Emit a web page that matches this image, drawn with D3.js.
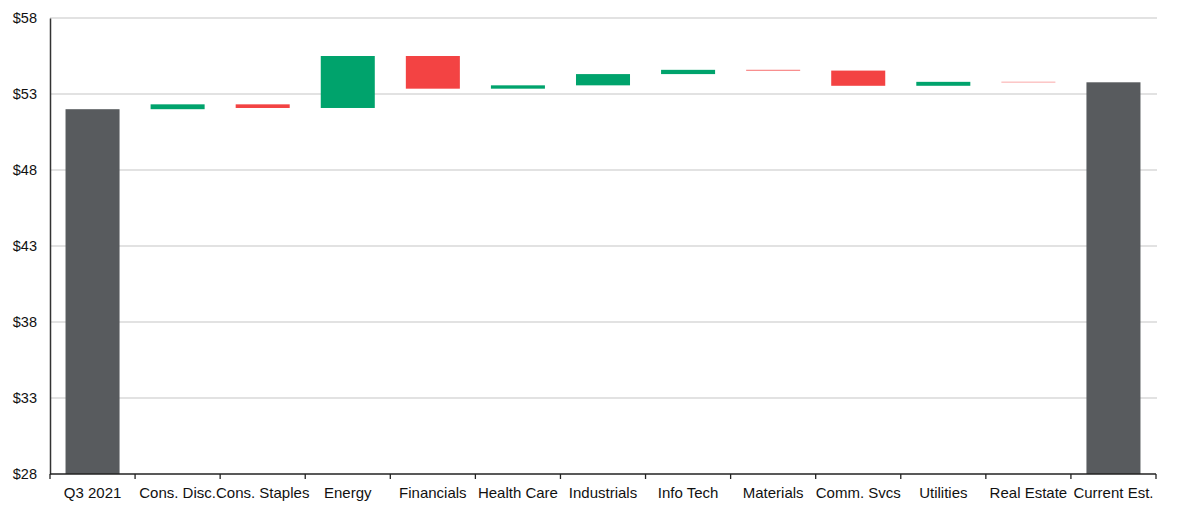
<!DOCTYPE html>
<html>
<head>
<meta charset="utf-8">
<script src="https://cdn.jsdelivr.net/npm/d3@7"></script>
<style>
  body { margin: 0; background: #fff; }
  svg { display: block; font-family: "Liberation Sans", Arial, sans-serif; }
</style>
</head>
<body>
<div id="wrapper"></div>
<script>
// waterfall: start value, sector contributions, end value
const categories = ["Q3 2021", "Cons. Disc.", "Cons. Staples", "Energy", "Financials",
  "Health Care", "Industrials", "Info Tech", "Materials", "Comm. Svcs", "Utilities",
  "Real Estate", "Current Est."];
const startValue = 52.0;
const changes = [0.32, -0.24, 3.42, -2.15, 0.22, 0.74, 0.28, -0.05, -1.0, 0.26, -0.03];
const endValue = 53.77;
const yTicks = [28, 33, 38, 43, 48, 53, 58];

const dimensions = {
  width: 1182,
  height: 521,
  margin: { top: 18, right: 26, bottom: 47, left: 50 }
};
dimensions.boundedWidth = dimensions.width - dimensions.margin.left - dimensions.margin.right;
dimensions.boundedHeight = dimensions.height - dimensions.margin.top - dimensions.margin.bottom;

// build the floating bars
const bars = [];
bars.push({ name: categories[0], y0: 0, y1: startValue, type: "total" });
let running = startValue;
changes.forEach((c, i) => {
  bars.push({ name: categories[i + 1], y0: running, y1: running + c, type: c >= 0 ? "up" : "down" });
  running += c;
});
bars.push({ name: categories[categories.length - 1], y0: 0, y1: endValue, type: "total" });

const colors = { total: "#585b5e", up: "#00a36c", down: "#f34343" };

const wrapper = d3.select("#wrapper")
  .append("svg")
  .attr("width", dimensions.width)
  .attr("height", dimensions.height);

const bounds = wrapper.append("g")
  .attr("transform", `translate(${dimensions.margin.left},${dimensions.margin.top})`);

const xScale = d3.scaleBand()
  .domain(categories)
  .range([0, dimensions.boundedWidth])
  .paddingInner(0.365)
  .paddingOuter(0.1825);

const yScale = d3.scaleLinear()
  .domain([28, 58])
  .range([dimensions.boundedHeight, 0]);

// gridlines
bounds.append("g")
  .selectAll("line")
  .data(yTicks.slice(1))
  .join("line")
  .attr("x1", 0)
  .attr("x2", dimensions.boundedWidth + 1)
  .attr("y1", d => yScale(d))
  .attr("y2", d => yScale(d))
  .attr("stroke", "#d9d9d9")
  .attr("stroke-width", 1.3);

// bars (total bars are clipped at the axis floor)
bounds.append("g")
  .selectAll("rect")
  .data(bars)
  .join("rect")
  .attr("x", d => xScale(d.name))
  .attr("width", xScale.bandwidth())
  .attr("y", d => yScale(Math.min(58, Math.max(d.y0, d.y1))))
  .attr("height", d => Math.abs(yScale(Math.max(28, d.y0)) - yScale(Math.max(28, d.y1))))
  .attr("fill", d => colors[d.type]);

// y axis: line + labels only
const yAxisGenerator = d3.axisLeft(yScale)
  .tickValues(yTicks)
  .tickSize(0)
  .tickPadding(13)
  .tickFormat(d => "$" + d);

const yAxis = bounds.append("g").call(yAxisGenerator);
yAxis.select(".domain").attr("stroke", "#333").attr("stroke-width", 1.5);
yAxis.selectAll("text")
  .attr("fill", "#111")
  .style("font-size", "14.5px");

// x axis: labels centred on bands, ticks on band edges
const xAxisGenerator = d3.axisBottom(xScale)
  .tickSize(0)
  .tickPadding(13);

const xAxis = bounds.append("g")
  .attr("transform", `translate(0,${dimensions.boundedHeight})`)
  .call(xAxisGenerator);
xAxis.select(".domain").remove();
xAxis.selectAll("text")
  .attr("fill", "#111")
  .style("font-size", "15px");

xAxis.append("line")
  .attr("x1", 0)
  .attr("x2", dimensions.boundedWidth)
  .attr("stroke", "#222")
  .attr("stroke-width", 1.5);

xAxis.selectAll(".edge")
  .data(d3.range(categories.length + 1))
  .join("line")
  .attr("class", "edge")
  .attr("x1", i => i * xScale.step())
  .attr("x2", i => i * xScale.step())
  .attr("y1", 0)
  .attr("y2", 5)
  .attr("stroke", "#222")
  .attr("stroke-width", 1.3);
</script>
</body>
</html>
